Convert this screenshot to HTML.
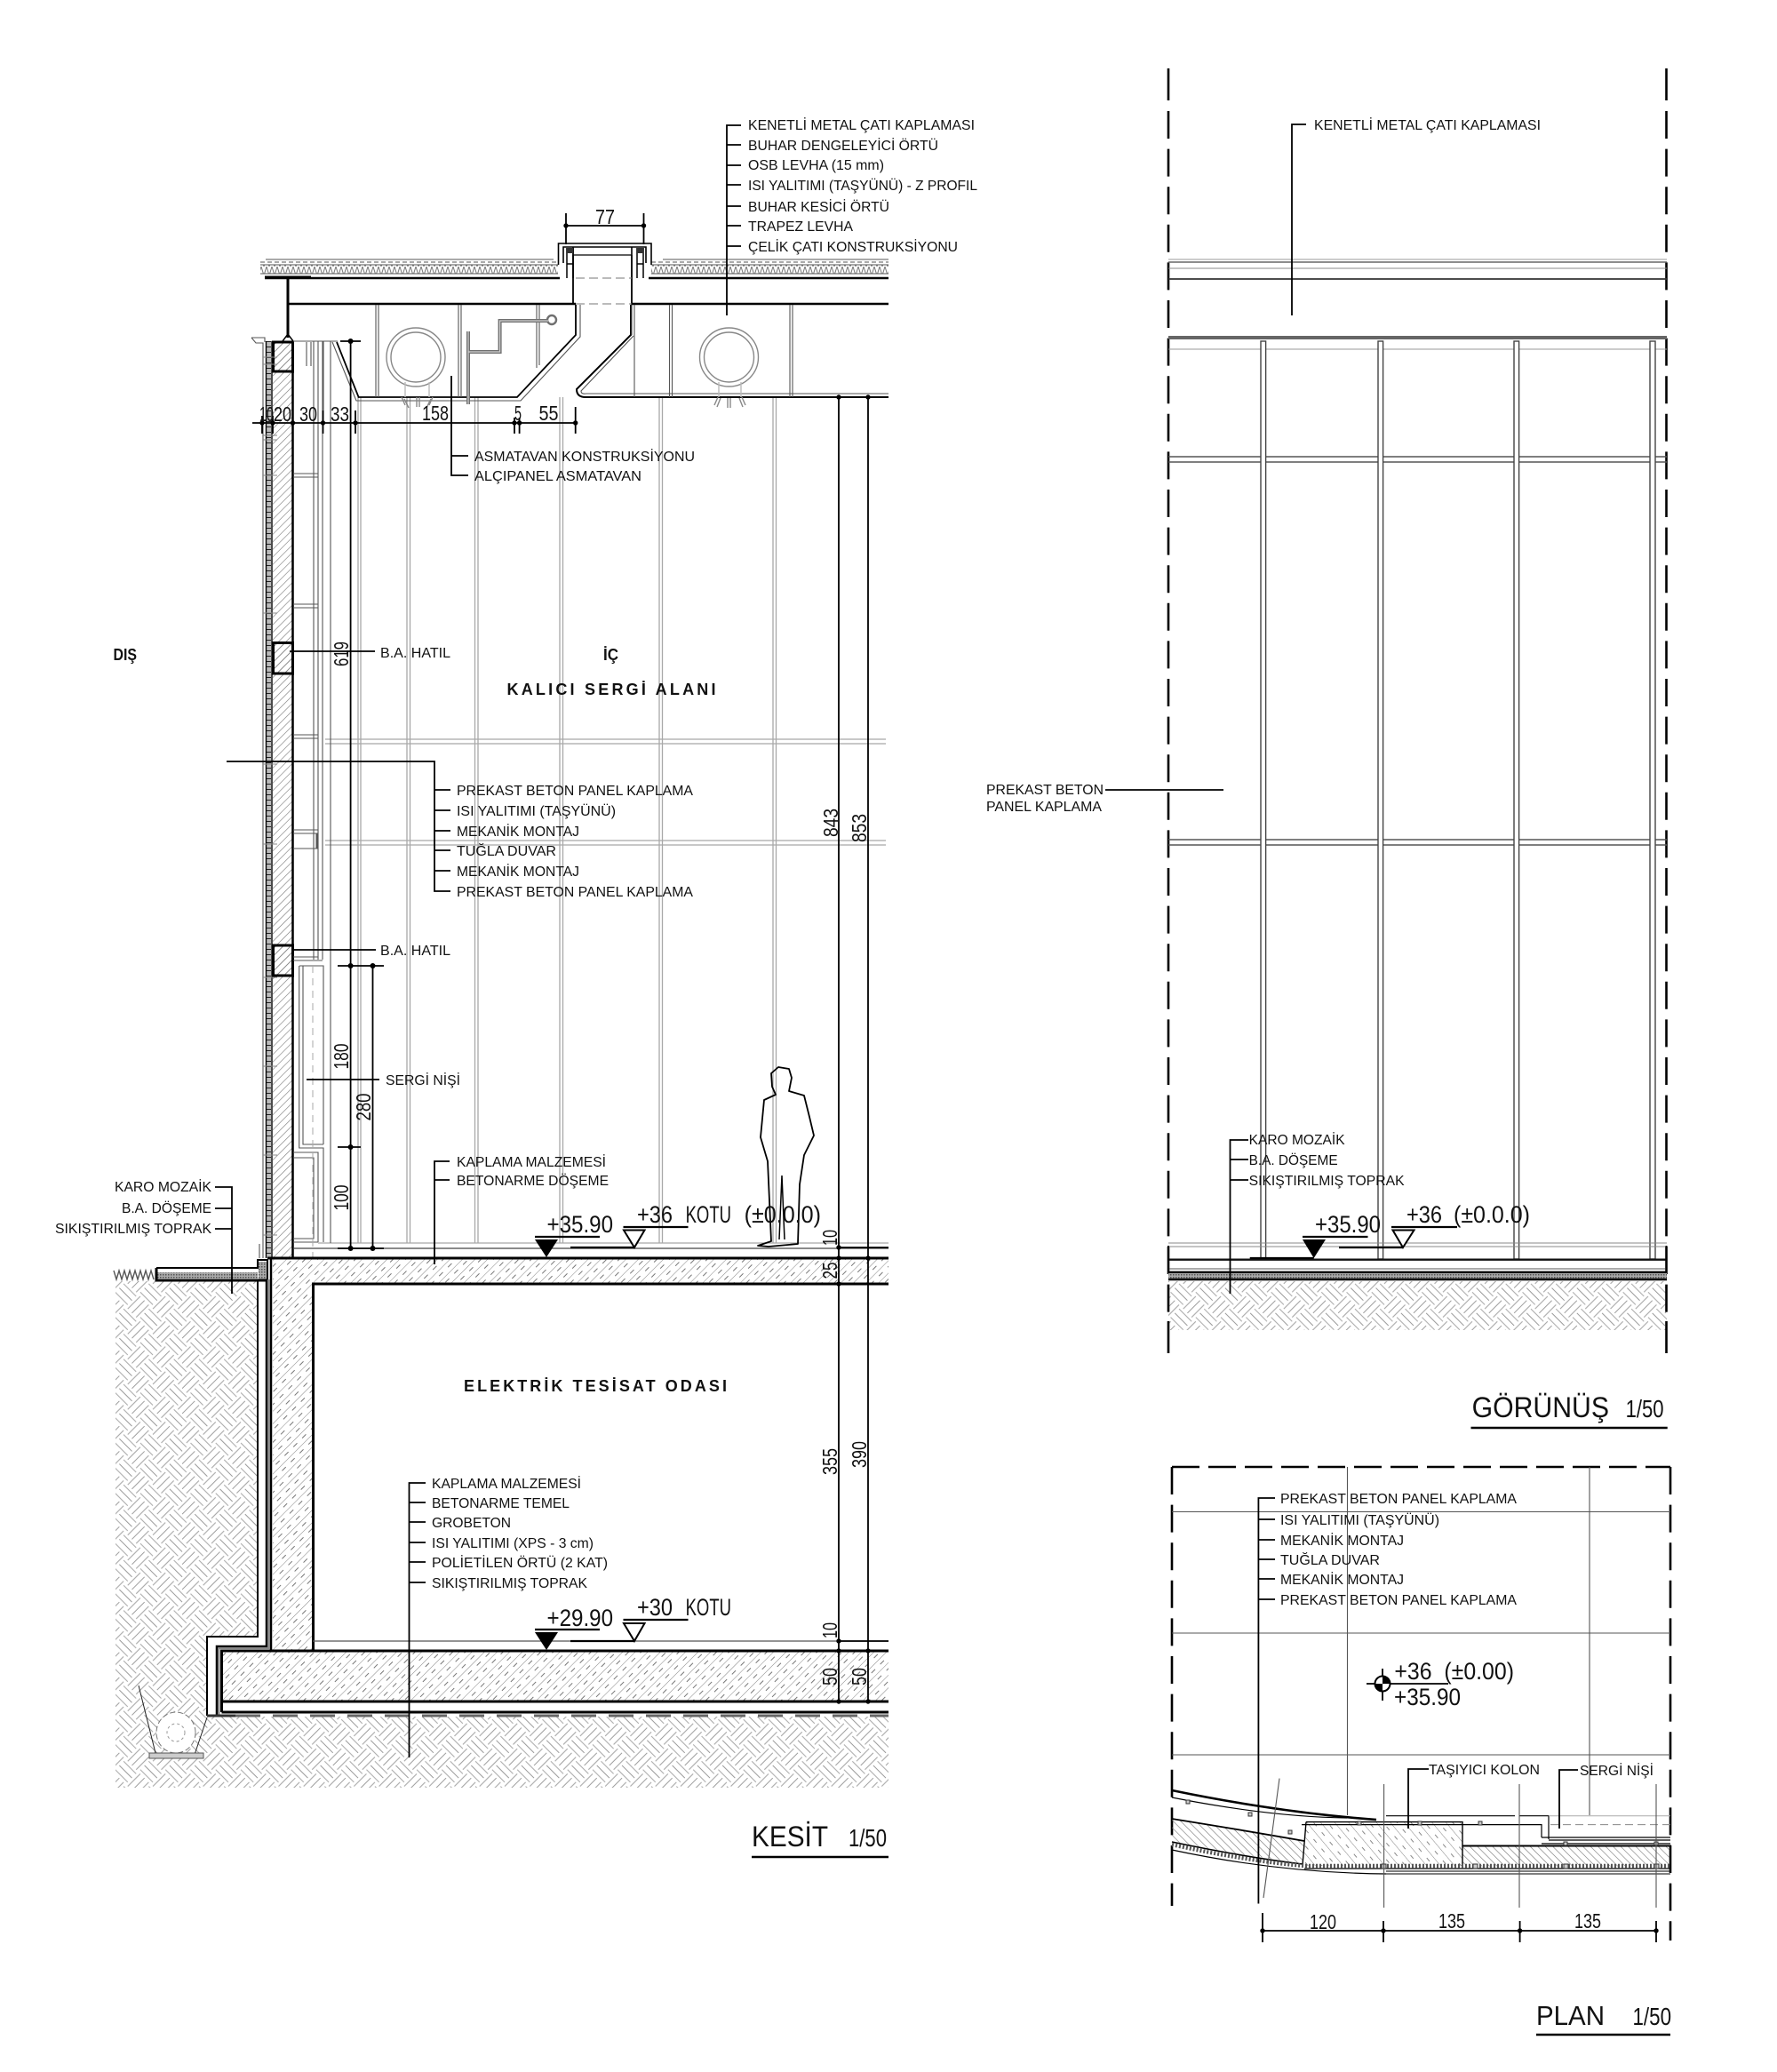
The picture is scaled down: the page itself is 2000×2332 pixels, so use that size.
<!DOCTYPE html>
<html lang="tr">
<head>
<meta charset="utf-8">
<title>Kesit, Görünüş, Plan</title>
<style>
html,body{margin:0;padding:0;background:#fff;width:2000px;height:2332px;overflow:hidden}
svg{display:block}
text{font-family:"Liberation Sans",Arial,sans-serif;fill:#111;font-size:16px}
.d{font-size:23px}
.t{font-size:27px}
.b{font-weight:700;font-size:18px}
.k{stroke:#000;fill:none}
.g{stroke:#a8a8a8;stroke-width:1.3;fill:none}
.m{stroke:#555;stroke-width:1.1;fill:none}
</style>
</head>
<body>
<svg xmlns="http://www.w3.org/2000/svg" width="2000" height="2332" viewBox="0 0 2000 2332">
<defs>
<pattern id="soil" width="40" height="40" patternUnits="userSpaceOnUse" patternTransform="rotate(45)">
<g stroke="#9a9a9a" stroke-width="0.95" fill="none">
<path d="M0 3.3H20M0 10H20M0 16.7H20"/>
<path d="M23.3 0V20M30 0V20M36.7 0V20"/>
<path d="M3.3 20V40M10 20V40M16.7 20V40"/>
<path d="M20 23.3H40M20 30H40M20 36.7H40"/>
</g>
</pattern>
<pattern id="wall" width="6" height="6" patternUnits="userSpaceOnUse" patternTransform="rotate(45)">
<path d="M0 0V6" stroke="#777" stroke-width="1.2"/>
</pattern>
<pattern id="conc" width="10" height="14" patternUnits="userSpaceOnUse" patternTransform="rotate(45)">
<path d="M0 0V14" stroke="#858585" stroke-width="1"/>
<path d="M5 2V8" stroke="#777" stroke-width="1"/>
</pattern>
<pattern id="wall2" width="6" height="6" patternUnits="userSpaceOnUse" patternTransform="rotate(-45)">
<path d="M0 0V6" stroke="#777" stroke-width="1.2"/>
</pattern>
<pattern id="conc2" width="12" height="14" patternUnits="userSpaceOnUse" patternTransform="rotate(-40)">
<path d="M0 0V14" stroke="#858585" stroke-width="1"/>
<path d="M6 2V7" stroke="#888" stroke-width="1"/>
</pattern>
<pattern id="dith" width="3" height="3" patternUnits="userSpaceOnUse">
<rect width="3" height="3" fill="#aaa"/><rect width="1.5" height="1.5" fill="#555"/>
</pattern>
<pattern id="zig" width="6" height="10" patternUnits="userSpaceOnUse">
<path d="M0 0L3 10L6 0" stroke="#777" fill="none" stroke-width="1"/>
</pattern>
<pattern id="ins" width="4" height="6" patternUnits="userSpaceOnUse">
<rect width="4" height="6" fill="#bbb"/><path d="M0 0H4" stroke="#222" stroke-width="2"/>
</pattern>
</defs>

<!-- ===== KESİT ===== -->
<path d="M130 1442H290V1842H233V1932H1000V2012H130Z" fill="url(#soil)"/>
<g class="g">
<path d="M403 447V1399M406 447V1399"/>
<path d="M458 447V1399M461.5 447V1399"/>
<path d="M534.5 447V1399M538 447V1399"/>
<path d="M630 447V1399M633.5 447V1399"/>
<path d="M742 447V1399M745.5 447V1399"/>
<path d="M870 447V1399M873.5 447V1399"/>
<path d="M366 832H997M366 837H997M366 946H997M366 951H997"/>
<path d="M358 1399H1000"/>
</g>
<!-- roof -->
<rect x="293" y="298" width="335" height="10" fill="url(#zig)"/>
<rect x="733" y="298" width="267" height="10" fill="url(#zig)"/>
<g class="m">
<path d="M299 292H623M746 292H1000"/>
<path d="M293 298H628M733 298H1000M293 308H628M733 308H1000"/>
<path d="M293 295H628M733 295H1000" stroke-dasharray="5 3"/>
</g>
<path class="k" stroke-width="2.5" d="M298 313H630M730 313H1000"/>
<path class="k" stroke-width="2.6" d="M324 342H648M711 342H1000"/>
<path class="k" stroke-width="3" d="M298 312H350"/>
<path class="k" stroke-width="3" d="M324 313V380"/>
<path class="k" stroke-width="1.5" d="M318 384L324 376L330 384"/>
<!-- chimney -->
<g class="k">
<path stroke-width="1.6" d="M628.5 298V274H733V298M634 296V278H727V296M645 278V287M711 278V287"/>
<path stroke-width="1.3" d="M645 287H711"/>
<path stroke-width="1.8" d="M645 287V343M711 287V343"/>
<path stroke-width="1.5" d="M638 279V313M645 279V313M717 279V313M724 279V313M638 297H645M717 297H724"/>
</g>
<rect x="638" y="279" width="7" height="6" fill="#333"/>
<rect x="717" y="279" width="7" height="6" fill="#333"/>
<path d="M648 313H711M648 342H711" stroke="#777" stroke-dasharray="10 5" fill="none"/>
<!-- ceiling -->
<path class="k" stroke-width="1.8" d="M648 343V377L582 447H403.6L379 385"/>
<path class="m" stroke-width="1.3" d="M653 343V379L586 451H401L374 385"/>
<path class="k" stroke-width="2" d="M710 343V377L649 438Q649 447 659 447H1000"/>
<path class="m" stroke-width="1.3" d="M713 378L654 440Q654 444 660 443H1000"/>
<g class="m" stroke-width="1.3">
<path d="M423 343V447M426 343V447M516 343V447M519 343V447M604 343V414M607 343V411M711 343V377M714 343V447M753.5 343V447M756.5 343V447M889 343V447M892 343V447"/>
</g>
<g fill="none" stroke="#888" stroke-width="1.4">
<circle cx="468" cy="402" r="33"/><circle cx="468" cy="402" r="28"/>
<circle cx="820.5" cy="402" r="33"/><circle cx="820.5" cy="402" r="28"/>
<path d="M456 430V447M483 430V447M809 430V447M834 430V447" stroke="#bbb"/>
<path d="M456 456L452 447M460 459L455 449M469 458V447M472 458V447M483 456L487 447M480 459L485 449"/>
<path d="M807 458L811 448M804 456L808 447M819 459V448M822 459V448M836 458L832 448M839 456L835 447"/>
</g>
<!-- pipe -->
<g fill="none" stroke="#707070" stroke-width="4">
<path d="M527 373V455M527 396H562.6V361H617"/>
<circle cx="621" cy="360" r="5" stroke-width="2.4"/>
</g>
<path d="M527 373V455M527 396H562.6V361H617" fill="none" stroke="#cfcfcf" stroke-width="1.2"/>
<!-- wall -->
<rect x="307" y="385" width="22" height="1031" fill="url(#wall)"/>
<g class="m" stroke-width="1.4">
<path d="M283 380H298V385M283 380L288 386H296V513V1416"/>
<path d="M292 1416V1400"/>
</g>
<rect x="300" y="384" width="5" height="1032" fill="url(#ins)"/>
<path class="k" stroke-width="1.4" d="M299.5 384V1416M306 384V1416"/>
<path class="k" stroke-width="2.5" d="M329.5 384V1416"/>
<g fill="url(#wall)" stroke="#000" stroke-width="3">
<rect x="307.5" y="385" width="22" height="33"/>
<rect x="307.5" y="723.5" width="22" height="34.5"/>
<rect x="307.5" y="1064" width="22" height="34"/>
</g>
<g class="m" stroke-width="1.4">
<path d="M353 384V1080M358 384V1080M363 384V1080M372 384V1399"/>
<path d="M364 384V476M330 384H380"/>
<path d="M330 533H358M330 537H358M330 680H358M330 684H358M330 827H358M330 831H358"/>
<path d="M330 934H358M330 938H358M330 955H358M330 1077H358M330 1081H363"/>
<path d="M345 385V412M350 385V412"/>
<path d="M296 402H312M296 410H312M296 490H312M296 495H312M296 535H312M296 690H312M296 860H312M296 950H312M296 1100H312M296 1200H312M296 1300H312M296 1390H312" stroke="#888" stroke-width="1"/>
</g>
<path d="M357 938V955" stroke="#555" stroke-width="3"/>
<!-- niche -->
<g class="m" stroke-width="1.4">
<path d="M336.7 1087V1292H364V1398M341 1087V1288H364"/>
<path d="M337 1087H364V1288"/>
<path d="M330 1297H358V1398M330 1303H353V1394H330M330 1398H358"/>
</g>
<path d="M352 1087V1416" stroke="#aaa" stroke-dasharray="8 6" fill="none"/>
<!-- floor -->
<rect x="307" y="1416" width="693" height="29" fill="url(#conc)"/>
<rect x="307" y="1445" width="45" height="412" fill="url(#conc)"/>
<path d="M330 1405H1000" stroke="#444" stroke-width="1.3"/>
<path class="k" stroke-width="3" d="M301 1416H1000"/>
<path class="k" stroke-width="3" d="M352.5 1857V1445H1000"/>
<!-- exterior slab -->
<rect x="177" y="1432" width="113" height="7" fill="url(#dith)"/>
<rect x="291" y="1420" width="9" height="20" fill="url(#dith)"/>
<path class="k" stroke-width="2" d="M176 1427H290V1418H301V1440"/>
<path class="k" stroke-width="3" d="M176 1427V1441H301"/>
<path d="M128 1430l3 10l3-10l3 10l3-10l3 10l3-10l3 10l3-10l3 10l3-10l3 10l3-10l3 10l3-10l3 10" fill="none" stroke="#555" stroke-width="1.4"/>
<path class="k" stroke-width="2" d="M290 1440V1842H233V1931"/>
<path class="k" stroke-width="2.5" d="M300 1440V1853H244V1931"/>
<path class="k" stroke-width="2.5" d="M305 1416V1857"/>
<path d="M302.5 1440V1855H246.5V1931" stroke="#888" stroke-width="2" fill="none"/>
<!-- foundation -->
<rect x="249" y="1858" width="751" height="57" fill="url(#conc)"/>
<path class="k" stroke-width="3" d="M249.5 1927V1858H1000M249.5 1915H1000M249.5 1927H1000"/>
<path d="M352 1847H1000" stroke="#555" stroke-width="1.3"/>
<path d="M233 1931H265" stroke="#333" stroke-width="3"/>
<path d="M265 1931H1000" stroke="#666" stroke-width="3" stroke-dasharray="28 14" fill="none"/>
<!-- drain -->
<ellipse cx="198" cy="1950" rx="22" ry="23" fill="#fff" stroke="#777" stroke-dasharray="6 3"/>
<circle cx="198" cy="1950" r="10" fill="none" stroke="#999" stroke-dasharray="3 3"/>
<rect x="168" y="1973" width="61" height="6" fill="#ccc" stroke="#555"/>
<path d="M156 1897L175 1973M233 1933L219.6 1973" stroke="#222" fill="none"/>
<!-- person -->
<path class="k" stroke-width="1.8" stroke-linejoin="round" fill="#fff" d="M868 1208L876 1201L888 1203L891 1213L888 1228L905 1233L911 1257L916 1278L905 1300L900 1333L898 1400L865 1403L853 1402L868 1397L864 1307L856 1280L860 1238L873 1232L869 1223Z"/>
<path class="k" stroke-width="1.5" d="M880 1323L877 1395M880 1323L883 1395"/>

<!-- dimensions -->
<g class="k" stroke-width="1.8">
<path d="M284 476H648M295 468V488M307 468V488M329.5 470V484M363.5 462V488M400 462V488M579 470V488M584.6 470V488M647.7 458V488"/>
<path d="M637 240V275M724.5 240V275M637 254H724.5"/>
<path d="M394.6 384V1405M383 384H406M419.5 1087V1405M380 1087H432M380 1291H406M380 1405H432"/>
<path d="M944 447V1915M977 447V1915"/>
<path d="M936 447H952M968 447H985"/>
<path d="M944 1404H1000M944 1847H1000"/>
</g>
<g fill="#000">
<circle cx="295" cy="476" r="2.7"/><circle cx="307" cy="476" r="2.7"/><circle cx="329.5" cy="476" r="2.7"/><circle cx="363.5" cy="476" r="2.7"/><circle cx="400" cy="476" r="2.7"/><circle cx="579" cy="476" r="2.7"/><circle cx="584.6" cy="476" r="2.7"/><circle cx="647.7" cy="476" r="2.7"/>
<circle cx="637" cy="254" r="2.7"/><circle cx="724.5" cy="254" r="2.7"/>
<circle cx="394.6" cy="384" r="3"/><circle cx="394.6" cy="1087" r="3"/><circle cx="419.5" cy="1087" r="3"/><circle cx="394.6" cy="1291" r="3"/><circle cx="394.6" cy="1405" r="3"/><circle cx="419.5" cy="1405" r="3"/>
<circle cx="944" cy="447" r="2.7"/><circle cx="977" cy="447" r="2.7"/>
<circle cx="944" cy="1404" r="2.7"/><circle cx="944" cy="1416" r="2.7"/><circle cx="977" cy="1416" r="2.7"/><circle cx="944" cy="1445" r="2.7"/>
<circle cx="944" cy="1847" r="2.7"/><circle cx="944" cy="1858" r="2.7"/><circle cx="977" cy="1858" r="2.7"/><circle cx="944" cy="1915" r="2.7"/><circle cx="977" cy="1915" r="2.7"/>
</g>
<g>
<text class="d" x="292" y="474" textLength="16" lengthAdjust="spacingAndGlyphs">10</text>
<text class="d" x="308" y="474" textLength="20" lengthAdjust="spacingAndGlyphs">20</text>
<text class="d" x="337" y="474" textLength="20" lengthAdjust="spacingAndGlyphs">30</text>
<text class="d" x="372" y="474" textLength="21" lengthAdjust="spacingAndGlyphs">33</text>
<text class="d" x="475" y="473" textLength="30" lengthAdjust="spacingAndGlyphs">158</text>
<text class="d" x="579" y="473" textLength="8" lengthAdjust="spacingAndGlyphs">5</text>
<text class="d" x="606.5" y="473" textLength="22" lengthAdjust="spacingAndGlyphs">55</text>
<text class="d" x="670" y="252" textLength="22" lengthAdjust="spacingAndGlyphs">77</text>
</g>
<g>
<text class="d" transform="translate(392 736) rotate(-90)" text-anchor="middle" textLength="28" lengthAdjust="spacingAndGlyphs">619</text>
<text class="d" transform="translate(392 1189) rotate(-90)" text-anchor="middle" textLength="29" lengthAdjust="spacingAndGlyphs">180</text>
<text class="d" transform="translate(417 1246) rotate(-90)" text-anchor="middle" textLength="31" lengthAdjust="spacingAndGlyphs">280</text>
<text class="d" transform="translate(392 1348) rotate(-90)" text-anchor="middle" textLength="29" lengthAdjust="spacingAndGlyphs">100</text>
<text class="d" transform="translate(943 926) rotate(-90)" text-anchor="middle" textLength="32" lengthAdjust="spacingAndGlyphs">843</text>
<text class="d" transform="translate(975 932) rotate(-90)" text-anchor="middle" textLength="32" lengthAdjust="spacingAndGlyphs">853</text>
<text class="d" transform="translate(942 1393) rotate(-90)" text-anchor="middle" textLength="18" lengthAdjust="spacingAndGlyphs">10</text>
<text class="d" transform="translate(942 1430) rotate(-90)" text-anchor="middle" textLength="19" lengthAdjust="spacingAndGlyphs">25</text>
<text class="d" transform="translate(942 1645) rotate(-90)" text-anchor="middle" textLength="30" lengthAdjust="spacingAndGlyphs">355</text>
<text class="d" transform="translate(975 1637) rotate(-90)" text-anchor="middle" textLength="30" lengthAdjust="spacingAndGlyphs">390</text>
<text class="d" transform="translate(942 1835) rotate(-90)" text-anchor="middle" textLength="18" lengthAdjust="spacingAndGlyphs">10</text>
<text class="d" transform="translate(942 1887) rotate(-90)" text-anchor="middle" textLength="20" lengthAdjust="spacingAndGlyphs">50</text>
<text class="d" transform="translate(975 1887) rotate(-90)" text-anchor="middle" textLength="20" lengthAdjust="spacingAndGlyphs">50</text>
</g>

<!-- leaders, section -->
<g class="k" stroke-width="1.8">
<path d="M834 141H818V355M818 163H834M818 186H834M818 208H834M818 232H834M818 254H834M818 277H834"/>
<path d="M527 513H508V423M508 513V535H527"/>
<path d="M255 857H489V1003H507M489 889H507M489 912H507M489 935H507M489 957H507M489 980H507"/>
<path d="M326 733H422M330 1069H423M345 1215H427"/>
<path d="M242 1336H261V1456M242 1360H261M242 1383H261"/>
<path d="M506 1307H489V1423M489 1328H506"/>
<path d="M479 1669H460.5V1978M460.5 1691H479M460.5 1713H479M460.5 1736H479M460.5 1758H479M460.5 1781H479"/>
</g>
<g>
<text x="842" y="146" textLength="255" lengthAdjust="spacingAndGlyphs">KENETLİ METAL ÇATI KAPLAMASI</text>
<text x="842" y="169" textLength="214" lengthAdjust="spacingAndGlyphs">BUHAR DENGELEYİCİ ÖRTÜ</text>
<text x="842" y="191" textLength="153" lengthAdjust="spacingAndGlyphs">OSB LEVHA (15 mm)</text>
<text x="842" y="214" textLength="258" lengthAdjust="spacingAndGlyphs">ISI YALITIMI (TAŞYÜNÜ) - Z PROFIL</text>
<text x="842" y="238" textLength="159" lengthAdjust="spacingAndGlyphs">BUHAR KESİCİ ÖRTÜ</text>
<text x="842" y="260" textLength="118" lengthAdjust="spacingAndGlyphs">TRAPEZ LEVHA</text>
<text x="842" y="283" textLength="236" lengthAdjust="spacingAndGlyphs">ÇELİK ÇATI KONSTRUKSİYONU</text>
<text x="534" y="519" textLength="248" lengthAdjust="spacingAndGlyphs">ASMATAVAN KONSTRUKSİYONU</text>
<text x="534" y="541" textLength="188" lengthAdjust="spacingAndGlyphs">ALÇIPANEL ASMATAVAN</text>
<text class="b" x="127.5" y="743" textLength="26.5" lengthAdjust="spacingAndGlyphs">DIŞ</text>
<text class="b" x="679" y="743" textLength="17" lengthAdjust="spacingAndGlyphs">İÇ</text>
<text class="b" x="570.5" y="782" textLength="235" lengthAdjust="spacing">KALICI SERGİ ALANI</text>
<text x="428" y="740" textLength="79" lengthAdjust="spacingAndGlyphs">B.A. HATIL</text>
<text x="428" y="1075" textLength="79" lengthAdjust="spacingAndGlyphs">B.A. HATIL</text>
<text x="514" y="895" textLength="266" lengthAdjust="spacingAndGlyphs">PREKAST BETON PANEL KAPLAMA</text>
<text x="514" y="918" textLength="179" lengthAdjust="spacingAndGlyphs">ISI YALITIMI (TAŞYÜNÜ)</text>
<text x="514" y="941" textLength="138" lengthAdjust="spacingAndGlyphs">MEKANİK MONTAJ</text>
<text x="514" y="963" textLength="112" lengthAdjust="spacingAndGlyphs">TUĞLA DUVAR</text>
<text x="514" y="986" textLength="138" lengthAdjust="spacingAndGlyphs">MEKANİK MONTAJ</text>
<text x="514" y="1009" textLength="266" lengthAdjust="spacingAndGlyphs">PREKAST BETON PANEL KAPLAMA</text>
<text x="434" y="1221" textLength="84" lengthAdjust="spacingAndGlyphs">SERGİ NİŞİ</text>
<text x="514" y="1313" textLength="168" lengthAdjust="spacingAndGlyphs">KAPLAMA MALZEMESİ</text>
<text x="514" y="1334" textLength="171" lengthAdjust="spacingAndGlyphs">BETONARME DÖŞEME</text>
<text x="129" y="1341" textLength="109" lengthAdjust="spacingAndGlyphs">KARO MOZAİK</text>
<text x="137" y="1365" textLength="101" lengthAdjust="spacingAndGlyphs">B.A. DÖŞEME</text>
<text x="62" y="1388" textLength="176" lengthAdjust="spacingAndGlyphs">SIKIŞTIRILMIŞ TOPRAK</text>
<text class="b" x="522" y="1566" textLength="296" lengthAdjust="spacing">ELEKTRİK TESİSAT ODASI</text>
<text x="486" y="1675" textLength="168" lengthAdjust="spacingAndGlyphs">KAPLAMA MALZEMESİ</text>
<text x="486" y="1697" textLength="155" lengthAdjust="spacingAndGlyphs">BETONARME TEMEL</text>
<text x="486" y="1719" textLength="89" lengthAdjust="spacingAndGlyphs">GROBETON</text>
<text x="486" y="1742" textLength="182" lengthAdjust="spacingAndGlyphs">ISI YALITIMI (XPS - 3 cm)</text>
<text x="486" y="1764" textLength="198" lengthAdjust="spacingAndGlyphs">POLİETİLEN ÖRTÜ (2 KAT)</text>
<text x="486" y="1787" textLength="175" lengthAdjust="spacingAndGlyphs">SIKIŞTIRILMIŞ TOPRAK</text>
</g>
<!-- levels, section -->
<path d="M602 1395H628L615 1415Z" fill="#000"/>
<path d="M602 1392H675" stroke="#000" stroke-width="2.2"/>
<path d="M642 1404H714M701.5 1381H774.5" stroke="#000" stroke-width="2.2"/>
<path d="M702 1384.5H725.5L714 1404Z" fill="#fff" stroke="#000" stroke-width="2"/>
<text class="t" x="615.5" y="1387" textLength="74.5" lengthAdjust="spacingAndGlyphs">+35.90</text>
<text class="t" x="717" y="1376" textLength="40" lengthAdjust="spacingAndGlyphs">+36</text>
<text class="t" x="771.6" y="1376" textLength="51.4" lengthAdjust="spacingAndGlyphs">KOTU</text>
<text class="t" x="837.6" y="1376" textLength="86.4" lengthAdjust="spacingAndGlyphs">(±0.0.0)</text>
<path d="M602 1837H628L615 1857Z" fill="#000"/>
<path d="M602 1834H675" stroke="#000" stroke-width="2.2"/>
<path d="M642 1847H714M701.5 1823H774.5" stroke="#000" stroke-width="2.2"/>
<path d="M702 1827H725.5L714 1847Z" fill="#fff" stroke="#000" stroke-width="2"/>
<text class="t" x="615.5" y="1830" textLength="74.5" lengthAdjust="spacingAndGlyphs">+29.90</text>
<text class="t" x="717" y="1818" textLength="40" lengthAdjust="spacingAndGlyphs">+30</text>
<text class="t" x="771.6" y="1818" textLength="51.4" lengthAdjust="spacingAndGlyphs">KOTU</text>
<text x="846" y="2078" style="font-size:32px" textLength="86" lengthAdjust="spacingAndGlyphs">KESİT</text>
<text x="955" y="2078" style="font-size:28px" textLength="43" lengthAdjust="spacingAndGlyphs">1/50</text>
<path d="M846 2090H1000" stroke="#000" stroke-width="2.6"/>

<!-- ===== GÖRÜNÜŞ ===== -->
<rect x="1315" y="1442" width="561" height="55" fill="url(#soil)"/>
<g class="k" stroke-width="2.6">
<path d="M1315 77V113M1875.5 77V113M1315 1487V1523M1875.5 1487V1523"/>
<path d="M1315 125V1487M1875.5 125V1487" stroke-dasharray="31 11.6"/>
</g>
<g fill="none">
<path d="M1315 292H1876" stroke="#999"/>
<path d="M1315 295H1876" stroke="#666" stroke-width="1.5"/>
<path d="M1315 302H1876" stroke="#888"/>
<path d="M1315 314H1876" stroke="#333" stroke-width="1.7"/>
<path d="M1315 380H1876" stroke="#666" stroke-width="4"/>
<path d="M1315 393H1876" stroke="#999"/>
<path d="M1315 514H1876M1315 520H1876M1315 945H1876M1315 951H1876" stroke="#555" stroke-width="1.4"/>
</g>
<g fill="#fff" stroke="#444" stroke-width="1.4">
<rect x="1419" y="384" width="5.6" height="1033"/>
<rect x="1551" y="384" width="5.6" height="1033"/>
<rect x="1704" y="384" width="5.6" height="1033"/>
<rect x="1857" y="384" width="6" height="1033"/>
</g>
<g fill="none">
<path d="M1315 1399H1876M1315 1403H1876" stroke="#888"/>
<path d="M1315 1417.7H1876" stroke="#111" stroke-width="2.4"/>
<path d="M1315 1428H1876" stroke="#555"/>
<path d="M1315 1432H1876" stroke="#000" stroke-width="2.8"/>
</g>
<rect x="1315" y="1433" width="561" height="6" fill="url(#dith)"/>
<path d="M1315 1440H1876" stroke="#000" stroke-width="2.6"/>
<path d="M1315 1402V1432M1875.5 1402V1432" stroke="#000" stroke-width="2"/>
<g class="k" stroke-width="1.8">
<path d="M1470 140H1454V355"/>
<path d="M1244 889H1377"/>
<path d="M1405 1283H1384.5V1456M1384.5 1305H1405M1384.5 1328H1405"/>
</g>
<text x="1479" y="146" textLength="255" lengthAdjust="spacingAndGlyphs">KENETLİ METAL ÇATI KAPLAMASI</text>
<text x="1110" y="894" textLength="132" lengthAdjust="spacingAndGlyphs">PREKAST BETON</text>
<text x="1110" y="913" textLength="130" lengthAdjust="spacingAndGlyphs">PANEL KAPLAMA</text>
<text x="1405.6" y="1288" textLength="108" lengthAdjust="spacingAndGlyphs">KARO MOZAİK</text>
<text x="1405.6" y="1311" textLength="100" lengthAdjust="spacingAndGlyphs">B.A. DÖŞEME</text>
<text x="1405.6" y="1334" textLength="175" lengthAdjust="spacingAndGlyphs">SIKIŞTIRILMIŞ TOPRAK</text>
<path d="M1466 1395H1492L1478.7 1416Z" fill="#000"/>
<path d="M1466 1392H1539.5" stroke="#000" stroke-width="2.2"/>
<path d="M1406.7 1416H1478.7M1507 1404H1579M1566 1381H1640" stroke="#000" stroke-width="2.2"/>
<path d="M1567.5 1384.5H1591.5L1579 1404Z" fill="#fff" stroke="#000" stroke-width="2"/>
<text class="t" x="1480" y="1387" textLength="74" lengthAdjust="spacingAndGlyphs">+35.90</text>
<text class="t" x="1583" y="1376" textLength="40" lengthAdjust="spacingAndGlyphs">+36</text>
<text class="t" x="1636" y="1376" textLength="86" lengthAdjust="spacingAndGlyphs">(±0.0.0)</text>
<text x="1656.6" y="1595" style="font-size:32px" textLength="154.4" lengthAdjust="spacingAndGlyphs">GÖRÜNÜŞ</text>
<text x="1829.6" y="1595" style="font-size:28px" textLength="43" lengthAdjust="spacingAndGlyphs">1/50</text>
<path d="M1655.5 1607H1876.7" stroke="#000" stroke-width="2.6"/>

<!-- ===== PLAN ===== -->
<g class="k" stroke-width="2.6">
<path d="M1319 1651H1880" stroke-dasharray="31 10"/>
<path d="M1319 1651V2145M1880 1651V2184" stroke-dasharray="31 11.6"/>
</g>
<g class="m">
<path d="M1319 1701.5H1880M1319 1838H1880M1319 1975H1880"/>
<path d="M1516.5 1651V2043M1789 1651V2043"/>
</g>
<path d="M1646 2077.5H1880V2100.5H1646Z" fill="url(#wall2)"/>
<path d="M1319 2047Q1400 2060 1468 2072L1466 2097Q1390 2087 1319 2073Z" fill="url(#wall2)"/>
<path d="M1470 2050.6H1646V2100H1466Z" fill="url(#conc2)"/>
<g class="k">
<path stroke-width="1.8" d="M1319 2047Q1400 2060 1468 2072"/>
<path stroke-width="1.4" d="M1470 2050.6L1466 2099M1470 2050.6H1646V2100"/>
<path stroke-width="2" d="M1646 2077.5H1880V2102"/>
<path stroke-width="1.6" d="M1319 2073Q1400 2090 1466 2098"/>
<path stroke-width="2.6" d="M1319 2015Q1440 2040 1549 2048"/>
<path stroke-width="1.2" d="M1319 2023Q1430 2045 1516 2046"/>
<path stroke-width="1.2" d="M1319 2082Q1440 2108 1560 2109"/>
<path stroke-width="1.2" d="M1560 2043.7H1705M1710 2043.7H1743V2070M1465 2053.6H1735V2068"/>
<path stroke-width="1.3" d="M1735 2068H1880M1743 2071H1880M1735 2075H1880"/>
<path stroke-width="1.1" d="M1560 2109H1880M1560 2106H1880"/>
</g>
<path d="M1319 2076Q1400 2094 1468 2100H1880" stroke="#555" stroke-width="4.5" fill="none" stroke-dasharray="2 2"/>
<path d="M1468 2103H1880" stroke="#000" stroke-width="1.2"/>
<path d="M1745 2053.6H1880" stroke="#888" stroke-dasharray="9 5" fill="none"/>
<path d="M1743 2043.7H1880" stroke="#aaa" fill="none"/>
<g fill="#ccc" stroke="#333" stroke-width="1">
<rect x="1555" y="2098" width="5" height="5"/><rect x="1658" y="2098" width="5" height="5"/><rect x="1760" y="2098" width="5" height="5"/><rect x="1862" y="2098" width="5" height="5"/>
<rect x="1528" y="2050" width="4" height="4"/><rect x="1596" y="2050" width="4" height="4"/><rect x="1664" y="2050" width="4" height="4"/>
<rect x="1760" y="2073" width="4" height="4"/><rect x="1862" y="2073" width="4" height="4"/>
<rect x="1450" y="2060" width="4" height="4"/><rect x="1405" y="2040" width="4" height="4"/><rect x="1335" y="2026" width="4" height="4"/>
</g>
<g class="m">
<path d="M1557.6 2008V2147M1710 2008V2147M1864 2008V2147M1440 2001.6L1422 2136"/>
</g>
<g class="k" stroke-width="1.8">
<path d="M1435 1686H1416.4V2142.5M1416.4 1710H1435M1416.4 1733H1435M1416.4 1755H1435M1416.4 1777H1435M1416.4 1800H1435"/>
<path d="M1608 1991H1585V2058M1776 1992H1755V2058"/>
<path d="M1421 2173H1864M1421 2153V2186M1557 2162V2186M1710.6 2162V2186M1864 2162V2186"/>
<path d="M1538 1895H1630M1556 1878V1914"/>
</g>
<g fill="#000">
<circle cx="1421" cy="2173" r="2.7"/><circle cx="1557" cy="2173" r="2.7"/><circle cx="1710.6" cy="2173" r="2.7"/><circle cx="1864" cy="2173" r="2.7"/>
</g>
<circle cx="1556" cy="1895" r="8.5" fill="#fff" stroke="#000" stroke-width="2"/>
<path d="M1556 1886.5A8.5 8.5 0 0 1 1564.5 1895H1556ZM1556 1903.5A8.5 8.5 0 0 1 1547.5 1895H1556Z" fill="#000"/>
<text x="1441" y="1692" textLength="266" lengthAdjust="spacingAndGlyphs">PREKAST BETON PANEL KAPLAMA</text>
<text x="1441" y="1716" textLength="179" lengthAdjust="spacingAndGlyphs">ISI YALITIMI (TAŞYÜNÜ)</text>
<text x="1441" y="1739" textLength="139" lengthAdjust="spacingAndGlyphs">MEKANİK MONTAJ</text>
<text x="1441" y="1761" textLength="112" lengthAdjust="spacingAndGlyphs">TUĞLA DUVAR</text>
<text x="1441" y="1783" textLength="139" lengthAdjust="spacingAndGlyphs">MEKANİK MONTAJ</text>
<text x="1441" y="1806" textLength="266" lengthAdjust="spacingAndGlyphs">PREKAST BETON PANEL KAPLAMA</text>
<text x="1569.4" y="1890" style="font-size:27px;white-space:pre" textLength="134.6" lengthAdjust="spacingAndGlyphs">+36  (±0.00)</text>
<text x="1569" y="1919" style="font-size:27px" textLength="75" lengthAdjust="spacingAndGlyphs">+35.90</text>
<text x="1608" y="1997" textLength="125" lengthAdjust="spacingAndGlyphs">TAŞIYICI KOLON</text>
<text x="1778" y="1998" textLength="83" lengthAdjust="spacingAndGlyphs">SERGİ NİŞİ</text>
<text class="d" x="1489" y="2171" text-anchor="middle" textLength="30" lengthAdjust="spacingAndGlyphs">120</text>
<text class="d" x="1634" y="2170" text-anchor="middle" textLength="30" lengthAdjust="spacingAndGlyphs">135</text>
<text class="d" x="1787" y="2170" text-anchor="middle" textLength="30" lengthAdjust="spacingAndGlyphs">135</text>
<text x="1729" y="2279" style="font-size:31px" textLength="77" lengthAdjust="spacingAndGlyphs">PLAN</text>
<text x="1837.5" y="2279" style="font-size:28px" textLength="43.5" lengthAdjust="spacingAndGlyphs">1/50</text>
<path d="M1729 2290H1880" stroke="#000" stroke-width="2.6"/>
</svg>
</body>
</html>
